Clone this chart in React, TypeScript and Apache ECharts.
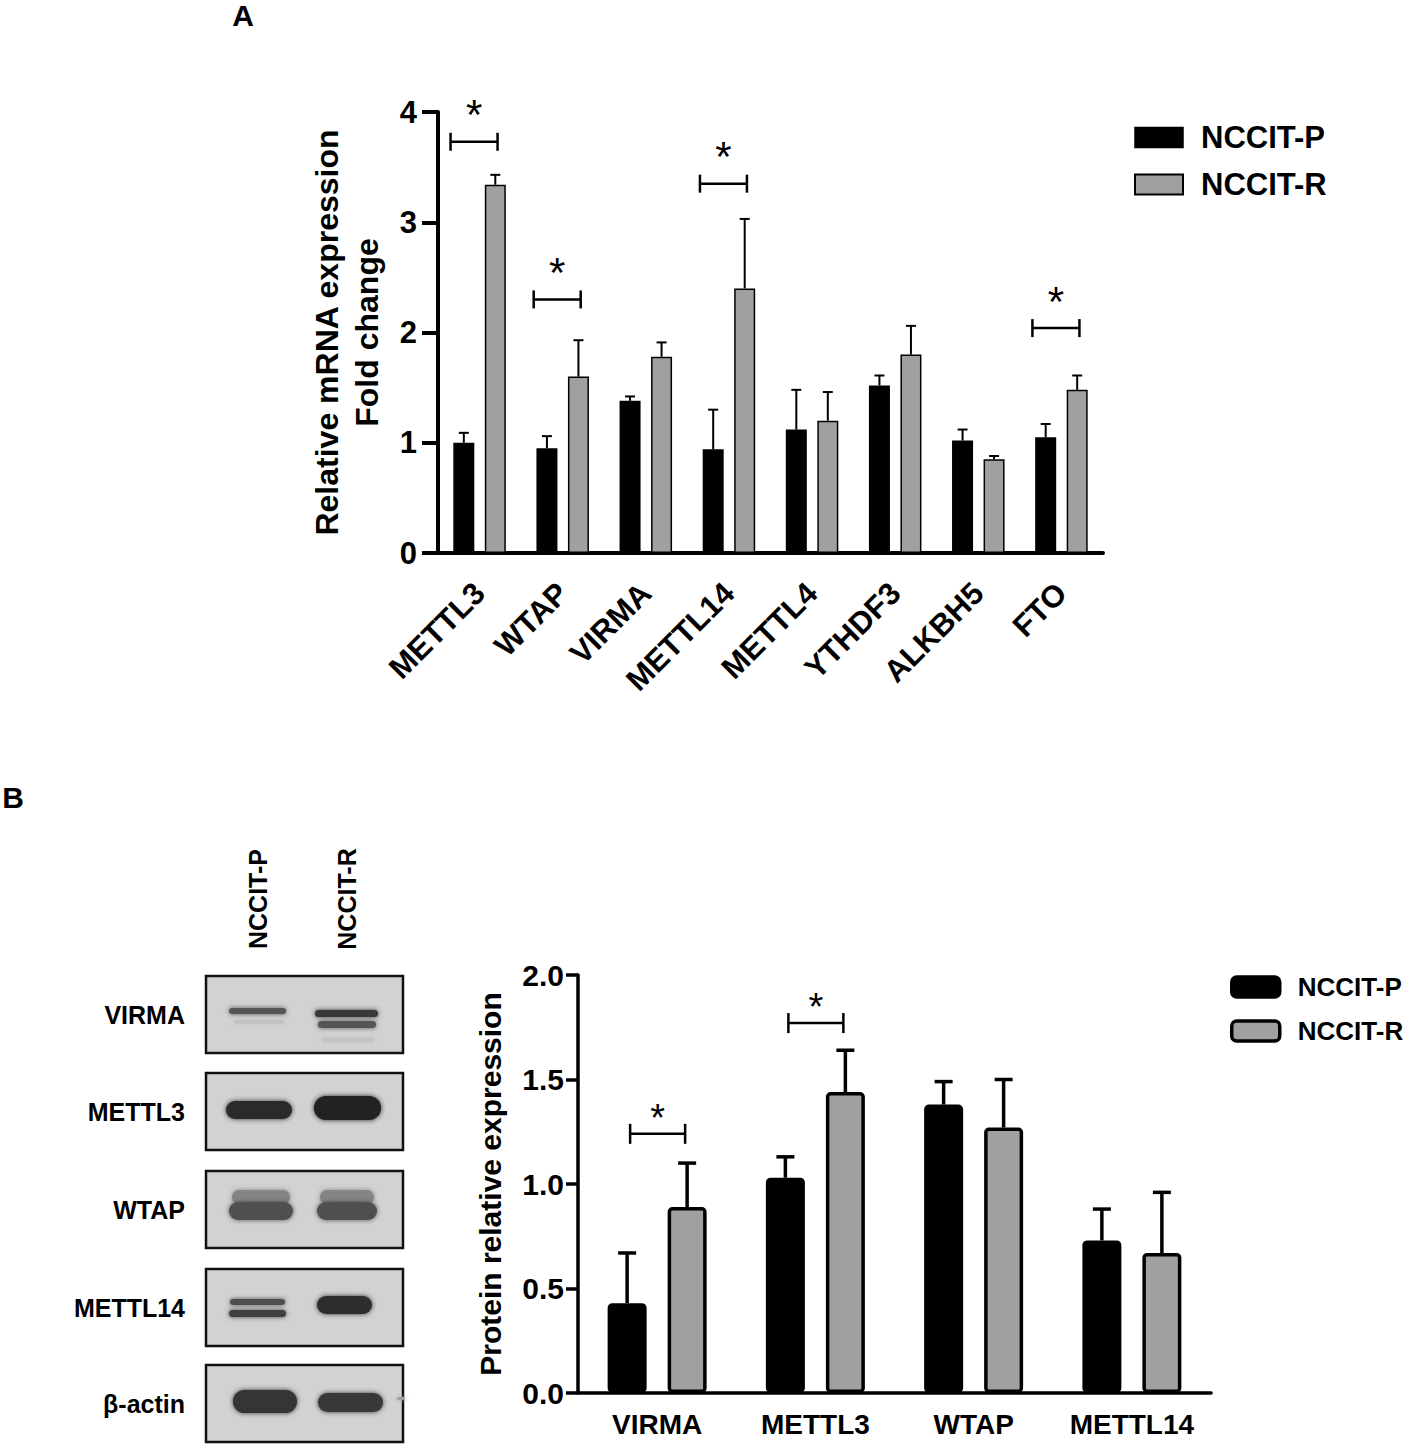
import React, { useEffect, useRef } from "react";
import * as echarts from "echarts";

// ---------- Panel A data ----------
const genesA = ["METTL3", "WTAP", "VIRMA", "METTL14", "METTL4", "YTHDF3", "ALKBH5", "FTO"];
const mrnaP = [1.0, 0.95, 1.38, 0.94, 1.12, 1.52, 1.02, 1.05];
const mrnaPErr = [0.09, 0.11, 0.04, 0.36, 0.36, 0.09, 0.1, 0.12];
const mrnaR = [3.34, 1.6, 1.78, 2.4, 1.2, 1.8, 0.85, 1.48];
const mrnaRErr = [0.09, 0.33, 0.13, 0.63, 0.26, 0.26, 0.03, 0.13];
const sigA: [number, number][] = [
  [0, 3.73],
  [1, 2.3],
  [3, 3.35],
  [7, 2.04],
];

// ---------- Panel B data ----------
const genesB = ["VIRMA", "METTL3", "WTAP", "METTL14"];
const protP = [0.43, 1.03, 1.38, 0.73];
const protPErr = [0.24, 0.1, 0.11, 0.15];
const protR = [0.89, 1.44, 1.27, 0.67];
const protRErr = [0.21, 0.2, 0.23, 0.29];
const sigB: [number, number][] = [
  [0, 1.24],
  [1, 1.77],
];

// ---------- Western blot (picture) ----------
const blotRows = ["VIRMA", "METTL3", "WTAP", "METTL14", "β-actin"];
const blotLanes = ["NCCIT-P", "NCCIT-R"];

const FONT = "'Liberation Sans', Arial, Helvetica, sans-serif";
const GRAY = "#a0a0a0";

function errRender(offset: number, capHalf: number, lw: number) {
  return (params: any, api: any) => {
    const i = api.value(0);
    const v = api.value(1);
    const e = api.value(2);
    const base = api.coord([i, v]);
    const top = api.coord([i, v + e]);
    const x = base[0] + offset;
    const st = { stroke: "#000", lineWidth: lw };
    return {
      type: "group",
      children: [
        { type: "line", shape: { x1: x, y1: base[1], x2: x, y2: top[1] }, style: st },
        { type: "line", shape: { x1: x - capHalf, y1: top[1], x2: x + capHalf, y2: top[1] }, style: st },
      ],
    };
  };
}

function sigRender(left: number, right: number, capH: number, lw: number, starDy: number, starSize: number) {
  return (params: any, api: any) => {
    const p = api.coord([api.value(0), api.value(1)]);
    const x1 = p[0] - left;
    const x2 = p[0] + right;
    const y = p[1];
    const st = { stroke: "#000", lineWidth: lw };
    return {
      type: "group",
      children: [
        { type: "line", shape: { x1, y1: y, x2, y2: y }, style: st },
        { type: "line", shape: { x1, y1: y - capH, x2: x1, y2: y + capH }, style: st },
        { type: "line", shape: { x1: x2, y1: y - capH, x2, y2: y + capH }, style: st },
        {
          type: "text",
          style: {
            text: "*",
            x: (x1 + x2) / 2,
            y: y + starDy,
            align: "center",
            verticalAlign: "middle",
            fontSize: starSize,
            fontFamily: FONT,
            fill: "#000",
          },
        },
      ],
    };
  };
}

function buildBlot(): any[] {
  const frameX = 206;
  const frameW = 197;
  const frameH = 77;
  const frameY = [976, 1073, 1171, 1269, 1365];
  const bands: { x: number; y: number; w: number; h: number; c: string }[] = [
    // VIRMA
    { x: 229, y: 1008, w: 57, h: 6, c: "#555555" },
    { x: 234, y: 1020, w: 50, h: 4, c: "#c2c2c2" },
    { x: 315, y: 1010, w: 63, h: 7, c: "#383838" },
    { x: 318, y: 1021, w: 58, h: 7, c: "#555555" },
    { x: 322, y: 1038, w: 52, h: 4, c: "#c2c2c2" },
    // METTL3
    { x: 226, y: 1101, w: 66, h: 18, c: "#2a2a2a" },
    { x: 314, y: 1096, w: 67, h: 24, c: "#202020" },
    // WTAP
    { x: 232, y: 1190, w: 58, h: 14, c: "#858585" },
    { x: 229, y: 1202, w: 64, h: 18, c: "#505050" },
    { x: 320, y: 1190, w: 54, h: 14, c: "#858585" },
    { x: 317, y: 1202, w: 60, h: 18, c: "#505050" },
    // METTL14
    { x: 230, y: 1299, w: 55, h: 6, c: "#4f4f4f" },
    { x: 229, y: 1310, w: 57, h: 7, c: "#404040" },
    { x: 317, y: 1296, w: 55, h: 18, c: "#2e2e2e" },
    // beta-actin
    { x: 233, y: 1390, w: 64, h: 23, c: "#343434" },
    { x: 318, y: 1393, w: 65, h: 19, c: "#383838" },
    { x: 397, y: 1397, w: 8, h: 3, c: "#a0a0a0" },
  ];
  const els: any[] = [];
  frameY.forEach((fy, i) => {
    els.push({
      type: "rect",
      shape: { x: frameX, y: fy, width: frameW, height: frameH },
      style: { fill: "#d2d2d2", stroke: "#111", lineWidth: 2.5 },
      z: 1,
    });
    els.push({
      type: "text",
      x: 185,
      y: fy + frameH / 2,
      style: {
        text: blotRows[i],
        align: "right",
        verticalAlign: "middle",
        fontSize: 25,
        fontWeight: "bold",
        fontFamily: FONT,
        fill: "#000",
      },
    });
  });
  bands.forEach((b) => {
    els.push({
      type: "rect",
      shape: { x: b.x, y: b.y, width: b.w, height: b.h, r: b.h / 2 },
      style: { fill: b.c, shadowBlur: 5, shadowColor: b.c },
      z: 2,
    });
  });
  const laneX = [258, 347];
  blotLanes.forEach((t, i) => {
    els.push({
      type: "text",
      x: laneX[i],
      y: 899,
      rotation: Math.PI / 2,
      style: {
        text: t,
        align: "center",
        verticalAlign: "middle",
        fontSize: 25,
        fontWeight: "bold",
        fontFamily: FONT,
        fill: "#000",
      },
    });
  });
  els.push({
    type: "text",
    x: 243,
    y: 15,
    style: { text: "A", align: "center", verticalAlign: "middle", fontSize: 30, fontWeight: "bold", fontFamily: FONT, fill: "#000" },
  });
  els.push({
    type: "text",
    x: 13,
    y: 797,
    style: { text: "B", align: "center", verticalAlign: "middle", fontSize: 30, fontWeight: "bold", fontFamily: FONT, fill: "#000" },
  });
  return els;
}

export default function App() {
  const ref = useRef<HTMLDivElement>(null);

  useEffect(() => {
    if (!ref.current) return;
    const chart = echarts.init(ref.current, undefined, { renderer: "svg" });

    const barWA = 21;
    const gapA = 10.5;
    const offA = (barWA + gapA) / 2;
    const barWB = 39;
    const gapB = 21;
    const offB = (barWB + gapB) / 2;

    const axisTxt = { color: "#000", fontWeight: "bold", fontFamily: FONT };

    const option: any = {
      animation: false,
      backgroundColor: "#fff",
      textStyle: { fontFamily: FONT },
      grid: [
        { left: 438, top: 112, width: 665, height: 441 },
        { left: 578, top: 975, width: 633, height: 418 },
      ],
      legend: [
        {
          orient: "vertical",
          left: 1129,
          top: 117,
          itemWidth: 48,
          itemHeight: 20,
          itemGap: 16,
          selectedMode: false,
          textStyle: { fontSize: 31, fontWeight: "bold", color: "#000", fontFamily: FONT, padding: [0, 0, 0, 13] },
          data: [
            { name: "NCCIT-P", icon: "rect", itemStyle: { color: "#000", borderColor: "#000", borderWidth: 1.5 } },
            { name: "NCCIT-R", icon: "rect", itemStyle: { color: GRAY, borderColor: "#000", borderWidth: 2 } },
          ],
        },
        {
          orient: "vertical",
          left: 1225,
          top: 969,
          itemWidth: 48,
          itemHeight: 20,
          itemGap: 18,
          selectedMode: false,
          textStyle: { fontSize: 26, fontWeight: "bold", color: "#000", fontFamily: FONT, padding: [0, 0, 0, 13] },
          data: [
            { name: "NCCIT-P", icon: "roundRect", itemStyle: { color: "#000", borderColor: "#000", borderWidth: 3.5 } },
            { name: "NCCIT-R", icon: "roundRect", itemStyle: { color: GRAY, borderColor: "#000", borderWidth: 3.5 } },
          ],
        },
      ],
      xAxis: [
        {
          gridIndex: 0,
          type: "category",
          data: genesA,
          axisLine: { lineStyle: { color: "#000", width: 4 } },
          axisTick: { alignWithLabel: true, length: 16, lineStyle: { color: "#000", width: 4 } },
          axisLabel: { ...axisTxt, rotate: 45, margin: 35, fontSize: 31, interval: 0 },
        },
        {
          gridIndex: 1,
          type: "category",
          data: genesB,
          axisLine: { lineStyle: { color: "#000", width: 3.5 } },
          axisTick: { alignWithLabel: true, length: 10, lineStyle: { color: "#000", width: 3.5 } },
          axisLabel: { ...axisTxt, margin: 17, fontSize: 28, interval: 0 },
        },
      ],
      yAxis: [
        {
          gridIndex: 0,
          type: "value",
          min: 0,
          max: 4,
          interval: 1,
          splitLine: { show: false },
          axisLine: { show: true, lineStyle: { color: "#000", width: 4 } },
          axisTick: { show: true, length: 16, lineStyle: { color: "#000", width: 4 } },
          axisLabel: { ...axisTxt, fontSize: 31, margin: 21 },
          name: "Relative mRNA expression\nFold change",
          nameLocation: "middle",
          nameGap: 51,
          nameTextStyle: { ...axisTxt, fontSize: 32, lineHeight: 40 },
        },
        {
          gridIndex: 1,
          type: "value",
          min: 0,
          max: 2,
          interval: 0.5,
          splitLine: { show: false },
          axisLine: { show: true, lineStyle: { color: "#000", width: 3.5 } },
          axisTick: { show: true, length: 12, lineStyle: { color: "#000", width: 3.5 } },
          axisLabel: { ...axisTxt, fontSize: 30, margin: 14, formatter: (v: number) => v.toFixed(1) },
          name: "Protein relative expression",
          nameLocation: "middle",
          nameGap: 73,
          nameTextStyle: { ...axisTxt, fontSize: 30, lineHeight: 30 },
        },
      ],
      series: [
        {
          name: "NCCIT-P",
          type: "bar",
          xAxisIndex: 0,
          yAxisIndex: 0,
          data: mrnaP,
          barWidth: barWA,
          barGap: `${(gapA / barWA) * 100}%`,
          itemStyle: { color: "#000", borderColor: "#000", borderWidth: 1.5 },
          z: 2,
        },
        {
          name: "NCCIT-R",
          type: "bar",
          xAxisIndex: 0,
          yAxisIndex: 0,
          data: mrnaR,
          barWidth: barWA,
          barGap: `${(gapA / barWA) * 100}%`,
          itemStyle: { color: GRAY, borderColor: "#000", borderWidth: 1.5 },
          z: 2,
        },
        {
          name: "errPA",
          type: "custom",
          xAxisIndex: 0,
          yAxisIndex: 0,
          data: mrnaP.map((v, i) => [i, v, mrnaPErr[i]]),
          renderItem: errRender(-offA, 5, 2),
          z: 3,
          silent: true,
        },
        {
          name: "errRA",
          type: "custom",
          xAxisIndex: 0,
          yAxisIndex: 0,
          data: mrnaR.map((v, i) => [i, v, mrnaRErr[i]]),
          renderItem: errRender(offA, 5, 2),
          z: 3,
          silent: true,
        },
        {
          name: "sigA",
          type: "custom",
          xAxisIndex: 0,
          yAxisIndex: 0,
          data: sigA,
          renderItem: sigRender(29, 18, 9, 2.5, -27, 42),
          z: 3,
          silent: true,
        },
        {
          name: "NCCIT-P",
          type: "bar",
          xAxisIndex: 1,
          yAxisIndex: 1,
          data: protP,
          barWidth: barWB,
          barGap: `${(gapB / barWB) * 100}%`,
          itemStyle: { color: "#000", borderColor: "#000", borderWidth: 3.5, borderRadius: 3 },
          z: 2,
        },
        {
          name: "NCCIT-R",
          type: "bar",
          xAxisIndex: 1,
          yAxisIndex: 1,
          data: protR,
          barWidth: barWB,
          barGap: `${(gapB / barWB) * 100}%`,
          itemStyle: { color: GRAY, borderColor: "#000", borderWidth: 3.5, borderRadius: 3 },
          z: 2,
        },
        {
          name: "errPB",
          type: "custom",
          xAxisIndex: 1,
          yAxisIndex: 1,
          data: protP.map((v, i) => [i, v, protPErr[i]]),
          renderItem: errRender(-offB, 9, 3.5),
          z: 3,
          silent: true,
        },
        {
          name: "errRB",
          type: "custom",
          xAxisIndex: 1,
          yAxisIndex: 1,
          data: protR.map((v, i) => [i, v, protRErr[i]]),
          renderItem: errRender(offB, 9, 3.5),
          z: 3,
          silent: true,
        },
        {
          name: "sigB",
          type: "custom",
          xAxisIndex: 1,
          yAxisIndex: 1,
          data: sigB,
          renderItem: sigRender(27, 28, 10, 2.5, -16, 38),
          z: 3,
          silent: true,
        },
      ],
      graphic: buildBlot(),
    };

    chart.setOption(option);
    return () => {
      chart.dispose();
    };
  }, []);

  return (
    <div
      ref={ref}
      style={{ position: "absolute", left: 0, top: 0, width: 1418, height: 1445 }}
    />
  );
}
